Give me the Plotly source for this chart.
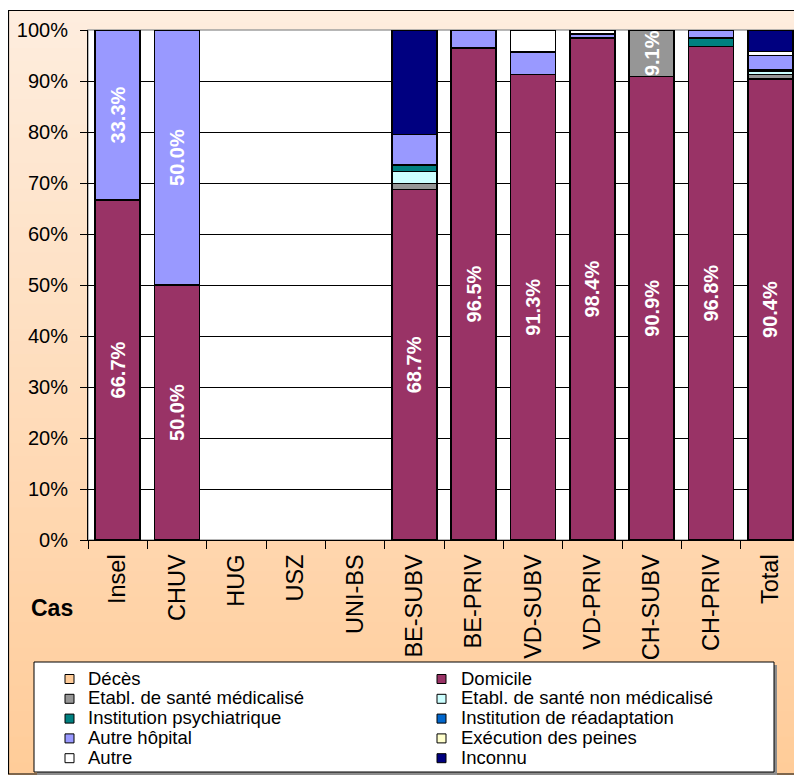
import plotly.graph_objects as go

# Categories (x axis)
categories = ["Insel", "CHUV", "HUG", "USZ", "UNI-BS", "BE-SUBV", "BE-PRIV",
              "VD-SUBV", "VD-PRIV", "CH-SUBV", "CH-PRIV", "Total"]

# Shares in % per destination
deces = [0, 0, 0, 0, 0, 0, 0, 0, 0, 0, 0, 0]
domicile = [66.7, 50.0, 0, 0, 0, 68.7, 96.5, 91.3, 98.4, 90.9, 96.8, 90.4]
etab_med = [0, 0, 0, 0, 0, 1.2, 0, 0, 0, 9.1, 0, 0.9]
etab_non_med = [0, 0, 0, 0, 0, 2.4, 0, 0, 0, 0, 0, 0.7]
psychiatrique = [0, 0, 0, 0, 0, 1.2, 0, 0, 0, 0, 1.6, 0.3]
readaptation = [0, 0, 0, 0, 0, 0, 0, 0, 0, 0, 0, 0]
autre_hopital = [33.3, 50.0, 0, 0, 0, 6.0, 3.5, 4.35, 0.8, 0, 1.6, 2.7]
execution = [0, 0, 0, 0, 0, 0, 0, 0, 0, 0, 0, 0]
autre = [0, 0, 0, 0, 0, 0, 0, 4.35, 0.8, 0, 0, 0.8]
inconnu = [0, 0, 0, 0, 0, 20.5, 0, 0, 0, 0, 0, 4.2]

series = [
    ("Décès", deces, "#FFCC99", False),
    ("Domicile", domicile, "#993366", True),
    ("Etabl. de santé médicalisé", etab_med, "#969696", True),
    ("Etabl. de santé non médicalisé", etab_non_med, "#CCFFFF", False),
    ("Institution psychiatrique", psychiatrique, "#008080", False),
    ("Institution de réadaptation", readaptation, "#0066CC", False),
    ("Autre hôpital", autre_hopital, "#9999FF", True),
    ("Exécution des peines", execution, "#FFFFCC", False),
    ("Autre", autre, "#FFFFFF", False),
    ("Inconnu", inconnu, "#000080", False),
]

FONT = "Liberation Sans, Arial, sans-serif"
OFF = 8  # the page body adds an 8px margin
W, H = 802 - OFF, 775 - OFF
L, R, T, B = 80, 2, 22, 235
PW, PH = W - L - R, H - T - B


# window pixel -> paper coordinates (layout only)
def px_x(px):
    return (px - OFF - L) / PW


def px_y(py):
    return (H - B - (py - OFF)) / PH


fig = go.Figure()

for name, values, color, labelled in series:
    if labelled:
        text = [f"{v:.1f}%" if v >= 9 else "" for v in values]
    else:
        text = ["" for v in values]
    fig.add_trace(
        go.Bar(
            x=categories,
            y=[v if v else None for v in values],
            name=name,
            marker=dict(color=color, line=dict(color="black", width=1.5)),
            text=text,
            textposition="inside",
            insidetextanchor="middle",
            textangle=-90,
            constraintext="none",
            textfont=dict(family=FONT, size=20, color="white", weight="bold"),
            showlegend=False,
        )
    )

shapes = []

# background gradient inside the chart border
top_rgb = (254, 237, 222)
bot_rgb = (255, 204, 153)
y_top, y_bot = 10, 775
n_strips = 60
for i in range(n_strips):
    t = i / (n_strips - 1)
    c = tuple(round(a + (b - a) * t) for a, b in zip(top_rgb, bot_rgb))
    s0 = y_top + (y_bot - y_top) * i / n_strips
    s1 = y_top + (y_bot - y_top) * (i + 1) / n_strips + 1
    shapes.append(dict(type="rect", xref="paper", yref="paper", layer="below",
                       x0=px_x(8), x1=px_x(802), y0=px_y(s0), y1=px_y(min(s1, y_bot)),
                       fillcolor="rgb(%d,%d,%d)" % c, line=dict(width=0)))

# plot area
shapes.append(dict(type="rect", xref="paper", yref="paper", layer="below",
                   x0=0, x1=1, y0=0, y1=1, fillcolor="white",
                   line=dict(color="#A0A0A0", width=1.5)))

# outer chart border
shapes.append(dict(type="rect", xref="paper", yref="paper", layer="above",
                   x0=px_x(8.5), x1=px_x(801), y0=px_y(774), y1=px_y(10.5),
                   line=dict(color="black", width=1.2)))

# legend box with shadow
shapes.append(dict(type="rect", xref="paper", yref="paper", layer="above",
                   x0=px_x(37), x1=px_x(777), y0=px_y(775), y1=px_y(665),
                   fillcolor="#8C8C8C", line=dict(width=0)))
shapes.append(dict(type="rect", xref="paper", yref="paper", layer="above",
                   x0=px_x(34), x1=px_x(774), y0=px_y(772), y1=px_y(662),
                   fillcolor="white", line=dict(color="black", width=1)))

annotations = []
col_swatch = [65, 437]
col_text = [86, 459]
for i, (name, values, color, labelled) in enumerate(series):
    row, col = divmod(i, 2)
    cy = 679 + 19.8 * row
    shapes.append(dict(type="rect", xref="paper", yref="paper", layer="above",
                       x0=px_x(col_swatch[col]), x1=px_x(col_swatch[col] + 9),
                       y0=px_y(cy + 4.5), y1=px_y(cy - 4.5),
                       fillcolor=color, line=dict(color="black", width=1)))
    annotations.append(dict(text=name, xref="paper", yref="paper",
                            x=px_x(col_text[col]), y=px_y(cy - 1),
                            xanchor="left", yanchor="middle", showarrow=False,
                            font=dict(family=FONT, size=18.5, color="black")))

# x axis title "Cas"
annotations.append(dict(text="<b>Cas</b>", xref="paper", yref="paper",
                        x=px_x(52), y=px_y(608), xanchor="center", yanchor="middle",
                        showarrow=False, font=dict(family=FONT, size=23, color="black")))

fig.update_layout(
    width=W,
    height=H,
    margin=dict(l=L, r=R, t=T, b=B, pad=0),
    barmode="stack",
    bargap=0.24,
    paper_bgcolor="white",
    plot_bgcolor="white",
    shapes=shapes,
    annotations=annotations,
    showlegend=False,
    font=dict(family=FONT, color="black"),
)

fig.update_xaxes(
    type="category",
    range=[-0.5, len(categories) - 0.5],
    tickson="boundaries",
    ticks="outside",
    ticklen=8,
    tickcolor="black",
    showline=True,
    linecolor="black",
    linewidth=1,
    showgrid=False,
    tickangle=-90,
    ticklabelstandoff=4,
    tickfont=dict(family=FONT, size=23.5, color="black"),
)

fig.update_yaxes(
    range=[0, 100],
    dtick=10,
    ticksuffix="%",
    ticks="outside",
    ticklen=7,
    tickcolor="black",
    showline=True,
    linecolor="black",
    linewidth=1,
    showgrid=True,
    gridcolor="black",
    gridwidth=1,
    zeroline=False,
    ticklabelstandoff=8,
    tickfont=dict(family=FONT, size=20, color="black"),
)

fig.write_html("out.html")
